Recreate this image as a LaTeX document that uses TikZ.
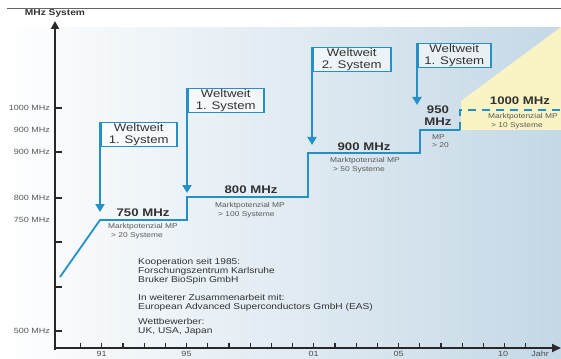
\documentclass[tikz,border=0pt]{standalone}
\usepackage{fontspec}
\setmainfont[FakeStretch=1.2]{Liberation Sans}
\usetikzlibrary{arrows.meta}
\definecolor{stepblue}{RGB}{35,145,200}
\definecolor{bgblue}{RGB}{196,216,230}
\definecolor{paleyellow}{RGB}{250,243,196}
\definecolor{txtgray}{RGB}{50,50,50}
\definecolor{axgray}{RGB}{40,40,40}

\begin{document}
\begin{tikzpicture}[x = 1pt, y = -1pt, text = txtgray]
	\tikzstyle{axisStyle} = [draw = axgray, line width = 1.8pt]
	\tikzstyle{tickStyle} = [draw = axgray, line width = 1.2pt]
	\tikzstyle{axisLabelStyle} = [anchor = east, inner sep = 0pt, text = black!65, font = \fontsize{7.5}{8}\selectfont]
	\tikzstyle{yearStyle} = [inner sep = 0pt, text = black!70, font = \fontsize{7.5}{8}\selectfont]
	\tikzstyle{stepStyle} = [draw = stepblue, line width = 1.8pt, line join = miter]
	\tikzstyle{calloutStyle} = [draw = stepblue, line width = 1.5pt, fill = white, fill opacity = 0.55, text opacity = 1, anchor = north west, inner sep = 0pt, minimum width = 76pt, minimum height = 24pt, align = center, font = \fontsize{11}{11.5}\selectfont]
	\tikzstyle{calloutArrow} = [draw = stepblue, line width = 1.8pt, -{Triangle[width = 9pt, length = 8pt]}]
	\tikzstyle{mhzStyle} = [inner sep = 0pt, align = center, font = \bfseries\fontsize{11}{12}\selectfont]
	\tikzstyle{mpStyle} = [anchor = north west, inner sep = 0pt, align = left, text = black!65, font = \fontsize{7}{8.3}\selectfont]
	\tikzstyle{infoStyle} = [anchor = north west, inner sep = 0pt, align = left, font = \fontsize{8.5}{9.3}\selectfont]
	\clip (0,0) rectangle (561,358);
	\fill[white] (0,0) rectangle (561,358);
	\shade[left color = white, right color = bgblue] (0,28) rectangle (561,358);
	\fill[paleyellow] (461,130) -- (461,101) -- (561,27) -- (561,130) -- cycle;
	\draw[black!60, line width = 0.8pt] (7,8) -- (561,8);
	\coordinate (origin) at (55,348);
	\coordinate (ytop) at (55,21);
	\coordinate (xend) at (561,348);
	\draw[axisStyle, -{Triangle[width = 8pt, length = 8pt]}] (55,350) -- (ytop);
	\draw[axisStyle, -{Triangle[width = 8pt, length = 9pt]}] (origin) -- (xend);
	\node[inner sep = 0pt, font = \bfseries\fontsize{8.5}{9}\selectfont] (ytitle) at (55,13) {MHz System};
	\foreach \y in {108,152,198,242,287,331}
		\draw[tickStyle] (55,\y) -- (62,\y);
	\foreach \i in {0,...,21}
		\draw[tickStyle] ({80.5+21.2*\i},348) -- ({80.5+21.2*\i},343);
	\node[axisLabelStyle] (y1000) at (50,108) {1000 MHz};
	\node[axisLabelStyle] (y900a) at (50,130) {900 MHz};
	\node[axisLabelStyle] (y900b) at (50,152) {900 MHz};
	\node[axisLabelStyle] (y800) at (50,198) {800 MHz};
	\node[axisLabelStyle] (y750) at (50,220) {750 MHz};
	\node[axisLabelStyle] (y500) at (50,331) {500 MHz};
	\node[yearStyle] (x91) at (101.7,354) {91};
	\node[yearStyle] (x95) at (186.5,354) {95};
	\node[yearStyle] (x01) at (313.7,354) {01};
	\node[yearStyle] (x05) at (398.5,354) {05};
	\node[yearStyle] (x10) at (503,354) {10};
	\node[yearStyle] (xjahr) at (540,354) {Jahr};
	\coordinate (s0) at (60,277);
	\coordinate (s1) at (100,220);
	\coordinate (s2) at (187,220);
	\coordinate (s3) at (187,197);
	\coordinate (s4) at (308,197);
	\coordinate (s5) at (308,153);
	\coordinate (s6) at (420,153);
	\coordinate (s7) at (420,130);
	\coordinate (s8) at (460,130);
	\coordinate (s9) at (460,110);
	\coordinate (s10) at (561,110);
	\draw[stepStyle] (s0) -- (s1) -- (s2) -- (s3) -- (s4) -- (s5) -- (s6) -- (s7) -- (s8);
	\draw[stepStyle, dash pattern = on 8pt off 6pt] (s8) -- (s9) -- (s10);
	\node[calloutStyle] (w1) at (100,122) {Weltweit\\1. System};
	\node[calloutStyle] (w2) at (187,88) {Weltweit\\1. System};
	\node[calloutStyle, minimum width = 78pt] (w3) at (312,47) {Weltweit\\2. System};
	\node[calloutStyle, minimum width = 73pt] (w4) at (417,43) {Weltweit\\1. System};
	\coordinate (t1) at (100,212);
	\coordinate (t2) at (187,193);
	\coordinate (t3) at (312,145);
	\coordinate (t4) at (417,105);
	\draw[calloutArrow] (w1.north west) -- (t1);
	\draw[calloutArrow] (w2.north west) -- (t2);
	\draw[calloutArrow] (w3.north west) -- (t3);
	\draw[calloutArrow] (w4.north west) -- (t4);
	\node[mhzStyle] (m750) at (143,213) {750 MHz};
	\node[mhzStyle] (m800) at (251,190) {800 MHz};
	\node[mhzStyle] (m900) at (364,147) {900 MHz};
	\node[mhzStyle] (m950) at (438,116) {950\\MHz};
	\node[mhzStyle] (m1000) at (520,101) {1000 MHz};
	\node[mpStyle] (mp750) at (108,223.5) {Marktpotenzial MP\\\hspace{3pt}> 20 Systeme};
	\node[mpStyle] (mp800) at (215,202.5) {Marktpotenzial MP\\\hspace{3pt}> 100 Systeme};
	\node[mpStyle] (mp900) at (330,157.5) {Marktpotenzial MP\\\hspace{3pt}> 50 Systeme};
	\node[mpStyle] (mp950) at (432,134.5) {MP\\> 20};
	\node[mpStyle] (mp1000) at (488,113.5) {Marktpotenzial MP\\\hspace{3pt}> 10 Systeme};
	\node[infoStyle] (koop) at (138,258) {Kooperation seit 1985:\\Forschungszentrum Karlsruhe\\Bruker BioSpin GmbH};
	\node[infoStyle] (zusammen) at (138,294) {In weiterer Zusammenarbeit mit:\\European Advanced Superconductors GmbH (EAS)};
	\node[infoStyle] (wettbewerb) at (138,318) {Wettbewerber:\\UK, USA, Japan};
\end{tikzpicture}
\end{document}
